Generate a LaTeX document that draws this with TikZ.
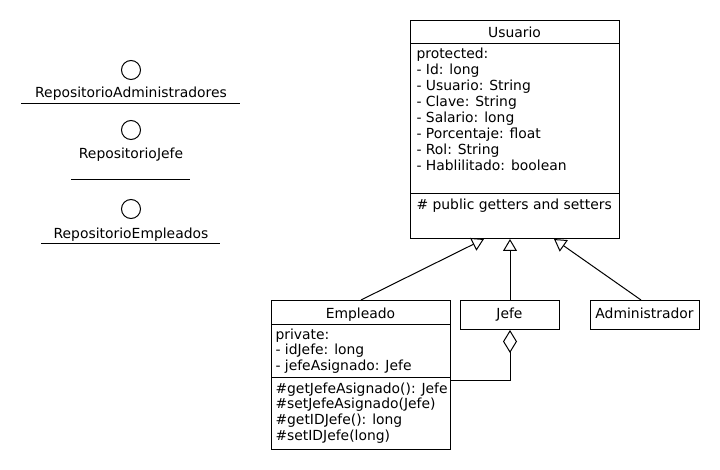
\documentclass[tikz,border=0pt]{standalone}
\usepackage{fontspec}
\setmainfont{DejaVu Sans}
\usetikzlibrary{arrows.meta,positioning}

\tikzset{
  box/.style={draw,anchor=north west,inner sep=0pt},
  iface/.style={draw,circle,minimum size=19pt,inner sep=0pt},
  txt/.style={anchor=base west,inner sep=0pt},
  ttl/.style={anchor=base,inner sep=0pt},
  gen/.style={-{Triangle[open,length=12pt,width=14pt]}},
  agg/.style={{Diamond[open,length=23pt,width=14pt]}-},
}

\begin{document}
\begin{tikzpicture}[x=1pt,y=-1pt,line width=1pt,
                    font={\fontsize{13.9pt}{16pt}\selectfont}]
%
  \useasboundingbox (0,0) rectangle (720,470) ;
%
  \node [iface] (repadm) at (131,70) {} ;
  \node [ttl] (repadmlbl) at (131,98) {RepositorioAdministradores} ;
  \draw (21,104) -- (240,104) ;
%
  \node [iface] (repjefe) at (131,130) {} ;
  \node [ttl] (repjefelbl) at (131,159) {RepositorioJefe} ;
  \draw (71,180) -- (190,180) ;
%
  \node [iface] (repemp) at (131,209) {} ;
  \node [ttl] (repemplbl) at (131,239) {RepositorioEmpleados} ;
  \draw (41,244) -- (220,244) ;
%
  \node [box,minimum width=209pt,minimum height=218pt] (usuario) at (410,20) {} ;
  \node [ttl] (usuariottl) at (514.5,38) {Usuario} ;
  \draw (410,44) -- (619,44) ;
  \foreach \t [count=\i from 0] in {protected:, - Id: long, - Usuario: String,
      - Clave: String, - Salario: long, - Porcentaje: float, - Rol: String,
      - Hablilitado: boolean}
    \node [txt] (uattr\i) at (416,59+16*\i) {\t} ;
  \draw (410,194) -- (619,194) ;
  \node [txt] (umeth) at (416,210) {\# public getters and setters} ;
%
  \node [box,minimum width=179pt,minimum height=149pt] (empleado) at (271,300) {} ;
  \node [ttl] (empleadottl) at (360.5,318) {Empleado} ;
  \draw (271,324) -- (450,324) ;
  \foreach \t [count=\i from 0] in {private:, - idJefe: long, - jefeAsignado: Jefe}
    \node [txt] (eattr\i) at (275,339+15.7*\i) {\t} ;
  \draw (271,377) -- (450,377) ;
  \node [txt] (emeth0) at (275,393) {\#getJefeAsignado(): Jefe} ;
  \node [txt] (emeth1) at (275,408.7) {\#setJefeAsignado(Jefe)} ;
  \node [txt] (emeth2) at (275,424.4) {\#getIDJefe(): long} ;
  \node [txt] (emeth3) at (275,440) {\#setIDJefe(long)} ;
%
  \node [box,minimum width=99pt,minimum height=29pt] (jefe) at (460,300) {} ;
  \node [ttl] (jefettl) at (509.5,319) {Jefe} ;
%
  \node [box,minimum width=109pt,minimum height=29pt] (admin) at (590,300) {} ;
  \node [ttl] (adminttl) at (644.5,319) {Administrador} ;
%
  \draw [gen] (empleado.north) -- ([xshift=-31pt]usuario.south) ;
  \draw [gen] (jefe.north) -- (jefe.north |- usuario.south) ;
  \draw [gen] ([xshift=-4pt]admin.north) -- ([xshift=39pt]usuario.south) ;
%
  \draw [agg] (jefe.south) |- ([yshift=-5.5pt]empleado.east) ;
%
\end{tikzpicture}
\end{document}
